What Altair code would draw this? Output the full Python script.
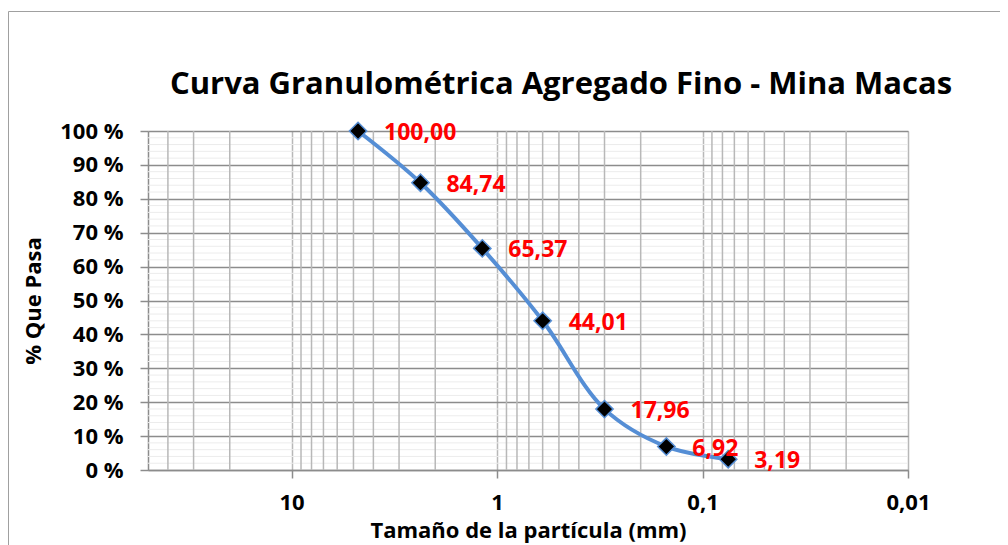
import altair as alt
import pandas as pd

# ---- data ----
sizes_mm = [4.75, 2.36, 1.18, 0.60, 0.30, 0.15, 0.075]
passing = [100.00, 84.74, 65.37, 44.01, 17.96, 6.92, 3.19]
labels = ["100,00", "84,74", "65,37", "44,01", "17,96", "6,92", "3,19"]

x_major = [10, 1, 0.1, 0.01]
x_minor = [40, 30, 20, 9, 8, 7, 6, 5, 4, 3, 2,
           0.9, 0.8, 0.7, 0.6, 0.5, 0.4, 0.3, 0.2,
           0.09, 0.08, 0.07, 0.06, 0.05, 0.04, 0.03, 0.02]
y_major = [0, 10, 20, 30, 40, 50, 60, 70, 80, 90, 100]
y_minor = [v for v in range(0, 101, 2) if v % 10 != 0]

FONT = "Open Sans"
BLUE = "#558ED5"

df = pd.DataFrame({"size": sizes_mm, "pct": passing, "label": labels})
df_xminor = pd.DataFrame({"size": x_minor})
df_yminor = pd.DataFrame({"pct": y_minor})
one = pd.DataFrame({"a": [0]})

xscale = alt.Scale(type="log", domain=[0.01, 50], reverse=True, nice=False)
yscale = alt.Scale(domain=[0, 100], nice=False)

base = alt.Chart(df)

x_axis = alt.Axis(
    values=x_major,
    labelExpr="datum.value == 10 ? '10' : datum.value == 1 ? '1' : datum.value == 0.1 ? '0,1' : datum.value == 0.01 ? '0,01' : ''",
    labelFlush=False,
    labelOverlap=False,
    grid=True,
    gridColor="#b8b8b8",
    gridWidth=1.5,
    domainColor="#8c8c8c",
    domainWidth=1.5,
    tickColor="#8c8c8c",
    tickWidth=1.5,
    tickSize=8,
    labelPadding=14,
    labelFont=FONT,
    labelFontSize=22,
    labelFontWeight="bold",
    labelColor="black",
    titleFont=FONT,
    titleFontSize=22,
    titleFontWeight="bold",
    titleColor="black",
    titlePadding=7,
)
y_axis = alt.Axis(
    values=y_major,
    labelExpr="datum.value + ' %'",
    labelOverlap=False,
    grid=True,
    gridColor="#8c8c8c",
    gridWidth=1.5,
    domainColor="#8c8c8c",
    domainWidth=1.5,
    tickColor="#8c8c8c",
    tickWidth=1.5,
    tickSize=8,
    labelPadding=17,
    labelFont=FONT,
    labelFontSize=22,
    labelFontWeight="bold",
    labelColor="black",
    titleFont=FONT,
    titleFontSize=22,
    titleFontWeight="bold",
    titleColor="black",
    titlePadding=14,
)

X_T = "Tamaño de la partícula (mm)"
Y_T = "% Que Pasa"


def xenc():
    return alt.X("size:Q", scale=xscale, title=X_T, axis=x_axis)


def yenc():
    return alt.Y("pct:Q", scale=yscale, title=Y_T, axis=y_axis)


hminor = alt.Chart(df_yminor).mark_rule(color="#ececec", strokeWidth=1).encode(
    y=yenc()
)
vminor = alt.Chart(df_xminor).mark_rule(color="#b8b8b8", strokeWidth=1.5).encode(
    x=xenc()
)

line = base.mark_line(color=BLUE, strokeWidth=4, interpolate="catmull-rom").encode(
    x=xenc(), y=yenc()
)

points = base.mark_point(
    shape="diamond", filled=True, fill="black", stroke=BLUE,
    strokeWidth=1.5, size=300, opacity=1
).encode(x=xenc(), y=yenc())

texts = base.mark_text(
    align="left", baseline="middle", dx=26, dy=2, color="#FF0000",
    font=FONT, fontSize=23, fontWeight="bold"
).encode(x=xenc(), y=yenc(), text="label:N")

border_top = alt.Chart(one).mark_rule(color="#a0a0a0", strokeWidth=1).encode(
    x=alt.value(-139.5), x2=alt.value(852), y=alt.value(-119.5)
)
border_left = alt.Chart(one).mark_rule(color="#a0a0a0", strokeWidth=1).encode(
    x=alt.value(-139.5), y=alt.value(-119.5), y2=alt.value(420)
)

chart = alt.layer(
    hminor, vminor, line, points, texts, border_top, border_left
).properties(
    width=760,
    height=339,
    padding={"left": 140, "top": 123, "right": 92, "bottom": 75},
    autosize=alt.AutoSizeParams(type="none"),
    title=alt.TitleParams(
        "Curva Granulométrica Agregado Fino - Mina Macas",
        font=FONT, fontSize=31, fontWeight="bold", color="black",
        anchor="middle", dx=33, offset=-114, baseline="alphabetic",
    ),
).configure_view(strokeWidth=0).configure(background="white")

chart.save("out.html", embed_options={"renderer": "svg", "actions": False})
